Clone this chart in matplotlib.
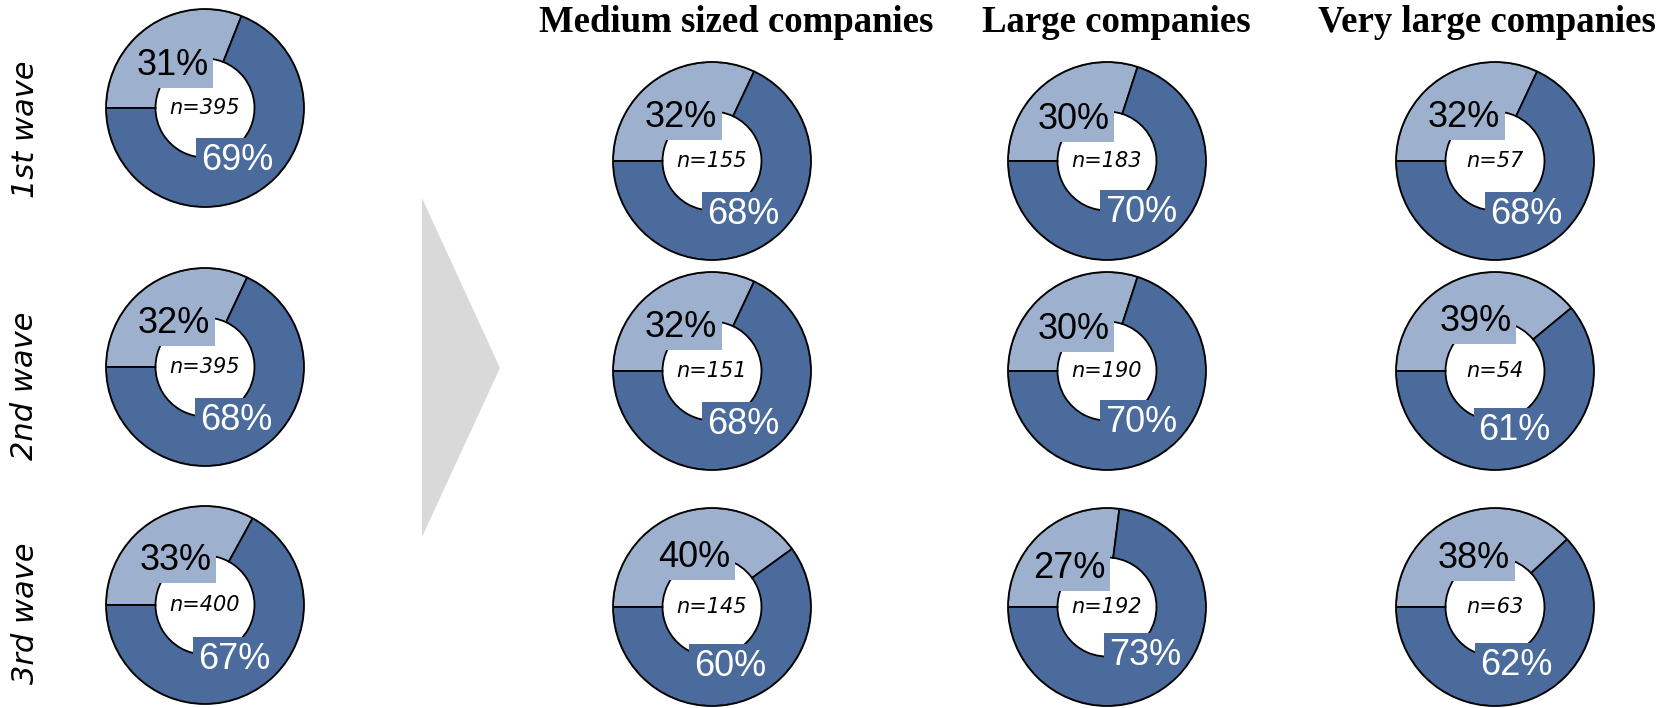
import numpy as np
import matplotlib.pyplot as plt
from matplotlib.patches import Polygon, Circle, Wedge

# Share of answers per wave (light = first answer, dark = second answer)
waves = ['1st wave', '2nd wave', '3rd wave']
total_light = [31, 32, 33]
total_dark = [69, 68, 67]
total_n = [395, 395, 400]

groups = ['Medium sized companies', 'Large companies', 'Very large companies']
group_light = [[32, 32, 40], [30, 30, 27], [32, 39, 38]]
group_dark = [[68, 68, 60], [70, 70, 73], [68, 61, 62]]
group_n = [[155, 151, 145], [183, 190, 192], [57, 54, 63]]

light = '#9db1cf'
dark = '#4a6b9b'

W, H = 1672, 708
fig = plt.figure(figsize=(W / 100, H / 100), dpi=100)
ax = fig.add_axes([0, 0, 1, 1])

R = 99


def donut(cx, cy, a, b, n):
    cy = H - cy
    wedges, _ = ax.pie([a, b], center=(cx, cy), radius=R, startangle=180,
                       counterclock=False, colors=[light, dark],
                       wedgeprops=dict(width=R * 0.5, edgecolor='black', linewidth=1.3))
    # percentage labels sit on the middle of each wedge
    for w, val, fc, tc in zip(wedges, [a, b], [light, dark], ['black', 'white']):
        mid = np.deg2rad((w.theta1 + w.theta2) / 2)
        x = cx + 0.58 * R * np.cos(mid)
        y = cy + 0.58 * R * np.sin(mid) - 5
        ax.text(x, y, f'{val}%', ha='center', va='center', fontsize=26,
                family='Liberation Sans', color=tc, zorder=5,
                bbox=dict(boxstyle='square,pad=0.13', fc=fc, ec='none'))
    # trim label boxes at the outer edge and redraw the rim
    ax.add_patch(Wedge((cx, cy), R + 12, 0, 360, width=12.5, fc='white', ec='none', zorder=6))
    ax.add_patch(Circle((cx, cy), R, fill=False, ec='black', lw=1.3, zorder=7))
    ax.text(cx, cy, f'n={n}', ha='center', va='center', fontsize=15,
            family='DejaVu Sans', style='italic', zorder=8)


left_y = [108, 367, 605]
label_y = [129, 386, 613]
for i in range(3):
    donut(205, left_y[i], total_light[i], total_dark[i], total_n[i])
    ax.text(25, H - label_y[i], waves[i], rotation=90, ha='center', va='center',
            fontsize=22, family='DejaVu Sans', style='italic')

col_x = [712, 1107, 1495]
row_y = [161, 371, 607]
title_x = [736, 1116, 1487]
for j in range(3):
    ax.text(title_x[j], H - 32, groups[j], ha='center', va='baseline',
            fontsize=26.5, family='Liberation Serif', weight='bold', zorder=9)
    for i in range(3):
        donut(col_x[j], row_y[i], group_light[j][i], group_dark[j][i], group_n[j][i])

# grey arrow between the overall and the split charts
ax.add_patch(Polygon([(422, H - 198), (500, H - 368), (422, H - 537)],
                     closed=True, fc='#d9d9d9', ec='none'))

ax.set_xlim(0, W)
ax.set_ylim(0, H)
ax.set_aspect('equal')
ax.set_axis_off()

fig.savefig('out.png', dpi=100)
